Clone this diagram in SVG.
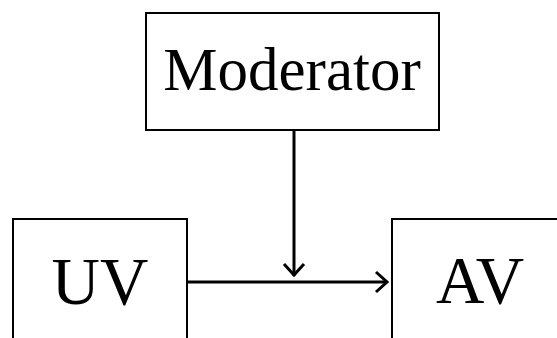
<svg xmlns="http://www.w3.org/2000/svg" width="557" height="338" viewBox="0 0 557 338">
<style>
.box{fill:#fff;stroke:#000;stroke-width:2}
.lbl{font-family:"Liberation Serif","Times New Roman",serif;fill:#000;text-anchor:middle}
.con{stroke:#000;stroke-width:3;fill:none}
.head{stroke:#000;stroke-width:3;fill:none;stroke-linejoin:miter}
</style>
<rect width="557" height="338" fill="#fff"/>
<g id="moderator">
<rect class="box" x="146" y="13" width="293" height="117"/>
<text class="lbl" x="292" y="90" font-size="61">Moderator</text>
</g>
<g id="uv">
<rect class="box" x="13" y="219" width="174" height="130"/>
<text class="lbl" x="100" y="304" font-size="67">UV</text>
</g>
<g id="av">
<rect class="box" x="392" y="219" width="180" height="130"/>
<text class="lbl" x="480" y="303" font-size="67">AV</text>
</g>
<g id="connectors">
<line class="con" x1="187" y1="282" x2="387" y2="282"/>
<polyline class="head" points="376,272 387,282 376,292"/>
<line class="con" x1="294" y1="131" x2="294" y2="276"/>
<polyline class="head" points="284,264 294,275 304,264"/>
</g>
</svg>
